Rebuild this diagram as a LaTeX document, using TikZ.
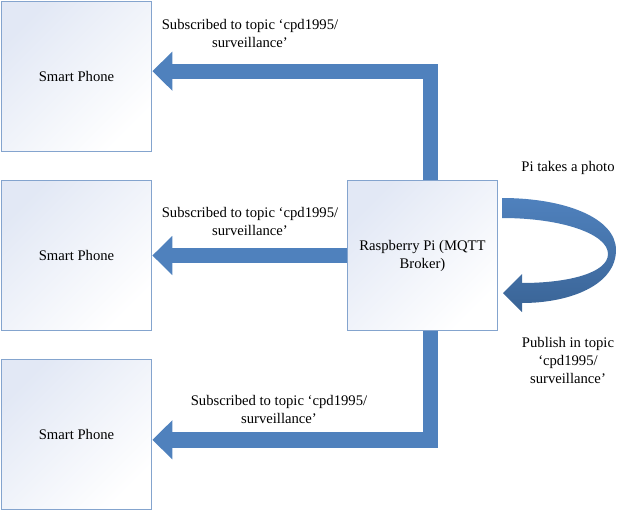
\documentclass[tikz,border=0pt]{standalone}
\usepackage{fontspec}
\setmainfont{Liberation Serif}
\usetikzlibrary{arrows.meta}

\definecolor{boxline}{RGB}{132,164,206}
\definecolor{boxtint}{RGB}{226,232,245}
\definecolor{flowblue}{RGB}{79,129,189}
\definecolor{flowdark}{RGB}{58,100,150}

\tikzset{
  unitbox/.style={rectangle, draw=boxline, line width=0.8pt, minimum width=113pt, minimum height=113pt,
    top color=boxtint, middle color=white, bottom color=white, shading angle=45, align=center},
  flowarrow/.style={draw=flowblue, line width=11.5pt, line join=miter, -{Triangle[width=28.5pt,length=15pt]}},
  notetext/.style={align=center},
}

\begin{document}
\begin{tikzpicture}[x=0.75pt, y=-0.75pt, font=\fontsize{11}{13.5}\selectfont]
\useasboundingbox (0,0) rectangle (626,511);

\node[unitbox] (phone1) at (76.5, 76.5) {Smart Phone};
\node[unitbox] (phone2) at (76.5, 255.5) {Smart Phone};
\node[unitbox] (phone3) at (76.5, 434.5) {Smart Phone};

\draw[flowarrow] ([xshift=6pt]422.5, 180) |- ([yshift=4pt]phone1.east);
\draw[flowarrow] (347, 255.5) -- (phone2.east);
\draw[flowarrow] ([xshift=6pt]422.5, 331) |- ([yshift=-4pt]phone3.east);

\node[unitbox] (pi) at (422.5, 255.5) {Raspberry Pi (MQTT\\Broker)};

% curved arrow: Pi takes a photo and publishes it
\shade[top color=flowblue, bottom color=flowdark]
  (502, 198) .. controls (565, 198) and (616, 218) .. (616, 250)
  .. controls (616, 285) and (570, 303) .. (522, 303)
  -- (522, 312) -- (503, 293) -- (522, 274) -- (522, 283)
  .. controls (568, 283) and (608, 273) .. (608, 254)
  .. controls (608, 234) and (562, 218) .. (502, 218) -- cycle;

\node[notetext] (sub1) at (250, 33) {Subscribed to topic ‘cpd1995/\\surveillance’};
\node[notetext] (sub2) at (250, 221.5) {Subscribed to topic ‘cpd1995/\\surveillance’};
\node[notetext] (sub3) at (279, 409.5) {Subscribed to topic ‘cpd1995/\\surveillance’};
\node[notetext] (photo) at (568, 168) {Pi takes a photo};
\node[notetext] (publish) at (568, 360.5) {Publish in topic\\‘cpd1995/\\surveillance’};

\end{tikzpicture}
\end{document}
